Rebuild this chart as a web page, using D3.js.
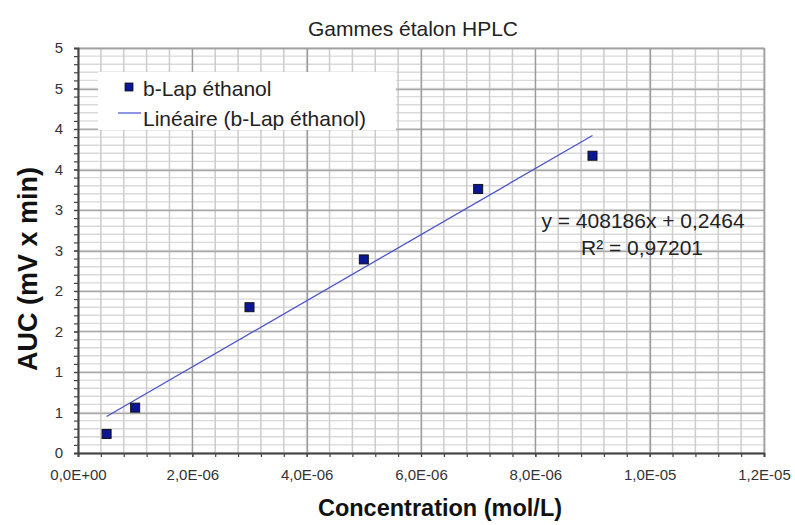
<!DOCTYPE html>
<html>
<head>
<meta charset="utf-8">
<script src="https://cdn.jsdelivr.net/npm/d3@7"></script>
<style>
  html, body { margin: 0; padding: 0; background: #fff; }
  svg { display: block; font-family: "Liberation Sans", Arial, sans-serif; }
</style>
</head>
<body>
<svg id="chart" width="795" height="525"></svg>
<script>
// Calibration data: concentration (mol/L) vs. peak area
const concentrations = [5e-7, 1e-6, 3e-6, 5e-6, 7e-6, 9e-6];
const aucValues = [0.235, 0.56, 1.80, 2.39, 3.26, 3.67];

// Linear fit reported for the series
const slope = 408186;
const intercept = 0.2464;
const rSquared = "0,97201";

// Axis ticks and their printed labels
const xTicks = [0, 2e-6, 4e-6, 6e-6, 8e-6, 1e-5, 1.2e-5];
const xTickLabels = ["0,0E+00", "2,0E-06", "4,0E-06", "6,0E-06", "8,0E-06", "1,0E-05", "1,2E-05"];
const yTicks = [0, 0.5, 1, 1.5, 2, 2.5, 3, 3.5, 4, 4.5, 5];
const yTickLabels = ["0", "1", "1", "2", "2", "3", "3", "4", "4", "5", "5"];

const svg = d3.select("#chart");
const margin = { left: 78, right: 31, top: 48, bottom: 72 };
const W = 795, H = 525;

const x = d3.scaleLinear().domain([0, 1.2e-5]).range([margin.left, W - margin.right]);
const y = d3.scaleLinear().domain([0, 5]).range([H - margin.bottom, margin.top]);

const [x0, x1] = x.range();
const [y0, y1] = y.range();

// Minor steps: 0.4E-06 on x, 0.1 on y
const xMinor = d3.range(0, 31).map(i => i * 4e-7);
const yMinor = d3.range(0, 51).map(i => i / 10);

const px = v => Math.round(v) + 0.5;

const grid = svg.append("g");
grid.append("g").selectAll("line").data(yMinor).join("line")
  .attr("x1", x0).attr("x2", x1)
  .attr("y1", d => y(d)).attr("y2", d => y(d))
  .attr("stroke", "#d9d9d9").attr("stroke-width", 1.4);
grid.append("g").selectAll("line").data(xMinor).join("line")
  .attr("y1", y0).attr("y2", y1)
  .attr("x1", d => x(d)).attr("x2", d => x(d))
  .attr("stroke", "#cccccc").attr("stroke-width", 1.5);
grid.append("g").selectAll("line").data(yTicks).join("line")
  .attr("x1", x0).attr("x2", x1)
  .attr("y1", d => px(y(d))).attr("y2", d => px(y(d)))
  .attr("stroke", "#a8a8a8").attr("stroke-width", 1.3);
grid.append("g").selectAll("line").data(xTicks).join("line")
  .attr("y1", y0).attr("y2", y1)
  .attr("x1", d => px(x(d))).attr("x2", d => px(x(d)))
  .attr("stroke", "#9c9c9c").attr("stroke-width", 1.3);

// Plot frame (top/right)
svg.append("rect")
  .attr("x", x0 + 0.5).attr("y", y1 + 0.5)
  .attr("width", x1 - x0).attr("height", y0 - y1)
  .attr("fill", "none").attr("stroke", "#a0a0a0").attr("stroke-width", 1.5);

// Axes with minor tick marks
const axisColor = "#444";
const xAxisMinor = d3.axisBottom(x).tickValues(xMinor).tickSize(4).tickFormat("");
const xAxis = d3.axisBottom(x).tickValues(xTicks).tickSize(4)
  .tickFormat((d, i) => xTickLabels[i]).tickPadding(12);
const yAxisMinor = d3.axisLeft(y).tickValues(yMinor).tickSize(4).tickFormat("");
const yAxis = d3.axisLeft(y).tickValues(yTicks).tickSize(4)
  .tickFormat((d, i) => yTickLabels[i]).tickPadding(11);

function styleAxis(g) {
  g.select(".domain").attr("stroke", axisColor).attr("stroke-width", 1.5);
  g.selectAll(".tick line").attr("stroke", axisColor).attr("stroke-width", 1.2);
  g.selectAll(".tick text").attr("fill", "#333").style("font-size", "15px")
    .style("font-family", "Liberation Sans, Arial, sans-serif");
}
svg.append("g").attr("transform", `translate(0,${y0})`).call(xAxisMinor).call(styleAxis);
svg.append("g").attr("transform", `translate(0,${y0})`).call(xAxis).call(styleAxis);
svg.append("g").attr("transform", `translate(${x0},0)`).call(yAxisMinor).call(styleAxis);
svg.append("g").attr("transform", `translate(${x0},0)`).call(yAxis).call(styleAxis);

// Legend (white box over the grid)
const lg = svg.append("g");
lg.append("rect").attr("x", 98).attr("y", 72).attr("width", 298).attr("height", 58).attr("fill", "#fff");
lg.append("rect").attr("x", 125).attr("y", 83).attr("width", 8).attr("height", 8)
  .attr("fill", "#0a1696").attr("stroke", "#111").attr("stroke-width", 0.8);
lg.append("text").attr("x", 143).attr("y", 96).text("b-Lap éthanol")
  .style("font-size", "21px").attr("fill", "#222");
lg.append("line").attr("x1", 118).attr("x2", 141).attr("y1", 113).attr("y2", 113)
  .attr("stroke", "#6a72d8").attr("stroke-width", 1.5);
lg.append("text").attr("x", 143).attr("y", 126).text("Linéaire (b-Lap éthanol)")
  .style("font-size", "21px").attr("fill", "#222");

// Trend line over the data range
const xExt = d3.extent(concentrations);
svg.append("line")
  .attr("x1", x(xExt[0])).attr("y1", y(slope * xExt[0] + intercept))
  .attr("x2", x(xExt[1])).attr("y2", y(slope * xExt[1] + intercept))
  .attr("stroke", "#4b55cc").attr("stroke-width", 1.3);

// Data markers
const ms = 9;
svg.append("g").selectAll("rect").data(concentrations).join("rect")
  .attr("x", d => x(d) - ms / 2)
  .attr("y", (d, i) => y(aucValues[i]) - ms / 2)
  .attr("width", ms).attr("height", ms)
  .attr("fill", "#0a1696").attr("stroke", "#111").attr("stroke-width", 1);

// Regression equation
svg.append("text").attr("x", 643).attr("y", 228).attr("text-anchor", "middle")
  .text(`y = ${slope}x + ${String(intercept).replace(".", ",")}`)
  .style("font-size", "21px").attr("fill", "#222");
svg.append("text").attr("x", 642).attr("y", 255).attr("text-anchor", "middle")
  .text(`R² = ${rSquared}`)
  .style("font-size", "21px").attr("fill", "#222");

// Titles
svg.append("text").attr("x", 413).attr("y", 36).attr("text-anchor", "middle")
  .text("Gammes étalon HPLC").style("font-size", "21px").attr("fill", "#222");
svg.append("text").attr("x", 440).attr("y", 516).attr("text-anchor", "middle")
  .text("Concentration (mol/L)").style("font-size", "23.5px").style("font-weight", "bold").attr("fill", "#111");
svg.append("text").attr("transform", "translate(37,269) rotate(-90)").attr("text-anchor", "middle")
  .text("AUC (mV x min)").style("font-size", "27px").style("font-weight", "bold").attr("fill", "#111");
</script>
</body>
</html>
